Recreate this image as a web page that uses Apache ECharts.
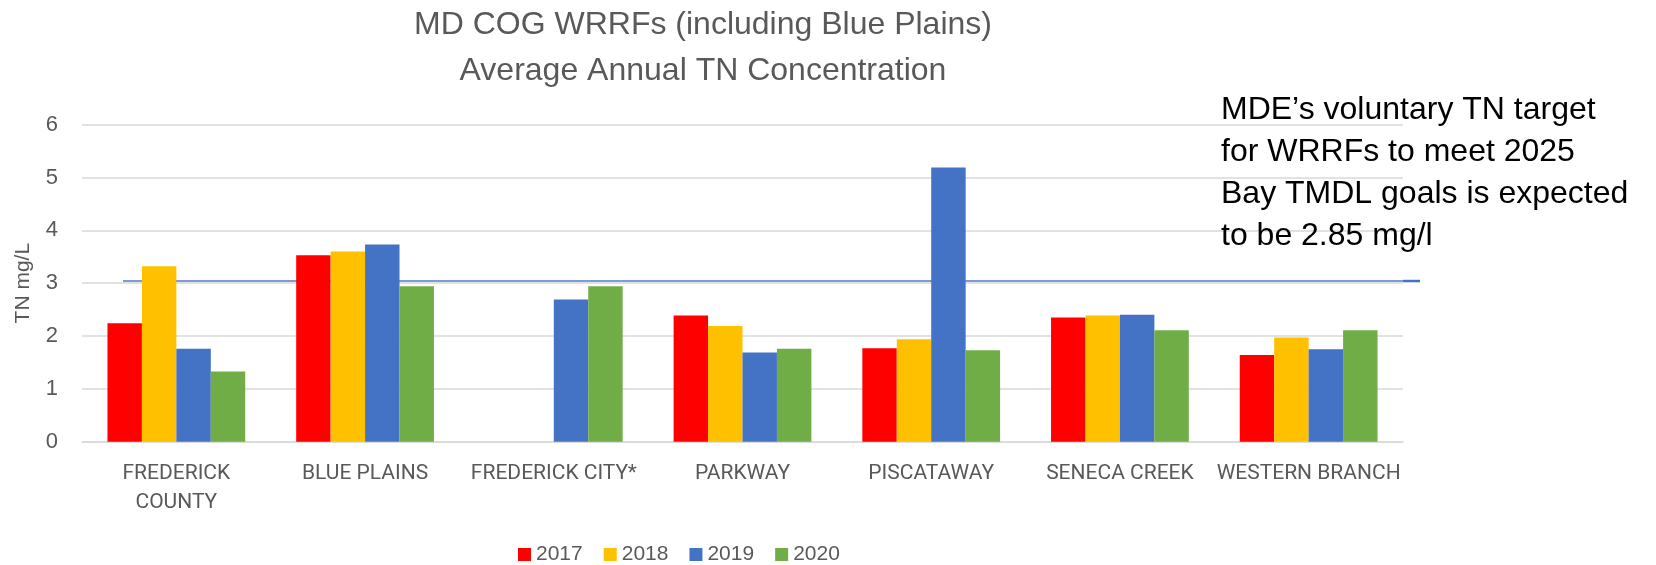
<!DOCTYPE html>
<html>
<head>
<meta charset="utf-8">
<script src="https://cdn.jsdelivr.net/npm/echarts@6/dist/echarts.min.js"></script>
<style>
html, body { margin: 0; padding: 0; background: #fff; }
#pic_chart { width: 1656px; height: 565px; }
</style>
</head>
<body>
<div id="pic_chart"></div>
<script>
var plants = ['FREDERICK\nCOUNTY', 'BLUE PLAINS', 'FREDERICK CITY*', 'PARKWAY', 'PISCATAWAY', 'SENECA CREEK', 'WESTERN BRANCH'];
var years = ['2017', '2018', '2019', '2020'];
var tn2017 = [2.24, 3.53, null, 2.39, 1.77, 2.35, 1.64];
var tn2018 = [3.32, 3.60, null, 2.19, 1.94, 2.39, 1.97];
var tn2019 = [1.76, 3.73, 2.69, 1.69, 5.19, 2.40, 1.75];
var tn2020 = [1.33, 2.94, 2.94, 1.76, 1.73, 2.11, 2.11];
var yTicks = [0, 1, 2, 3, 4, 5, 6];
var targetLine = 3.04;
var note = ['MDE\u2019s voluntary TN target', 'for WRRFs to meet 2025', 'Bay TMDL goals is expected', 'to be 2.85 mg/l'];

var colors = ['#FF0000', '#FFC000', '#4472C4', '#70AD47'];
var font = "Roboto, 'Liberation Sans', sans-serif";
var font2 = "'Liberation Sans', sans-serif";

var myChart = echarts.init(document.getElementById('pic_chart'));

function bar(name, data, i) {
    return {
        name: name,
        type: 'bar',
        data: data,
        barGap: '0%',
        barCategoryGap: '27%',
        itemStyle: { color: colors[i] }
    };
}

var option = {
    animation: false,
    title: {
        text: 'MD COG WRRFs (including Blue Plains)\nAverage Annual TN Concentration',
        left: 703,
        top: 2,
        padding: 0,
        textAlign: 'center',
        textStyle: {
            fontFamily: font2,
            fontSize: 32,
            fontWeight: 'normal',
            color: '#595959',
            lineHeight: 46
        }
    },
    legend: {
        data: years,
        left: 518,
        top: 544,
        padding: 0,
        itemWidth: 13,
        itemHeight: 13,
        itemGap: 21,
        icon: 'rect',
        textStyle: { fontFamily: font2, fontSize: 21, color: '#595959' }
    },
    grid: {
        left: 82,
        right: 253,
        top: 124.6,
        bottom: 123.3
    },
    xAxis: {
        type: 'category',
        data: plants,
        axisLine: { lineStyle: { color: '#d9d9d9', width: 1.5 } },
        axisTick: { show: false },
        axisLabel: {
            interval: 0,
            margin: 18,
            fontFamily: font,
            fontSize: 21,
            lineHeight: 29,
            color: '#595959'
        }
    },
    yAxis: {
        type: 'value',
        min: yTicks[0],
        max: yTicks[yTicks.length - 1],
        interval: 1,
        name: 'TN mg/L',
        nameLocation: 'middle',
        nameGap: 48,
        nameTextStyle: { fontFamily: font2, fontSize: 21, color: '#595959' },
        axisLine: { show: false },
        axisTick: { show: false },
        axisLabel: { margin: 24, fontFamily: font2, fontSize: 22, color: '#595959' },
        splitLine: { lineStyle: { color: '#d9d9d9', width: 1.5 } }
    },
    series: [
        bar(years[0], tn2017, 0),
        bar(years[1], tn2018, 1),
        bar(years[2], tn2019, 2),
        bar(years[3], tn2020, 3)
    ]
};
myChart.setOption(option);

// target line and its note, placed with the value axis
var yLine = myChart.convertToPixel({ yAxisIndex: 0 }, targetLine);
myChart.setOption({
    graphic: [
        {
            type: 'line',
            shape: { x1: 123, y1: yLine, x2: 1403, y2: yLine },
            style: { stroke: '#4472C4', lineWidth: 2, opacity: 0.7 }
        },
        {
            type: 'line',
            shape: { x1: 1403, y1: yLine, x2: 1420, y2: yLine },
            style: { stroke: '#4472C4', lineWidth: 2.5 }
        },
        {
            type: 'text',
            left: 1221,
            top: 89,
            style: {
                text: note.join('\n'),
                fontFamily: font2,
                fontSize: 32,
                lineHeight: 42,
                fill: '#000'
            }
        }
    ]
});
</script>
</body>
</html>
